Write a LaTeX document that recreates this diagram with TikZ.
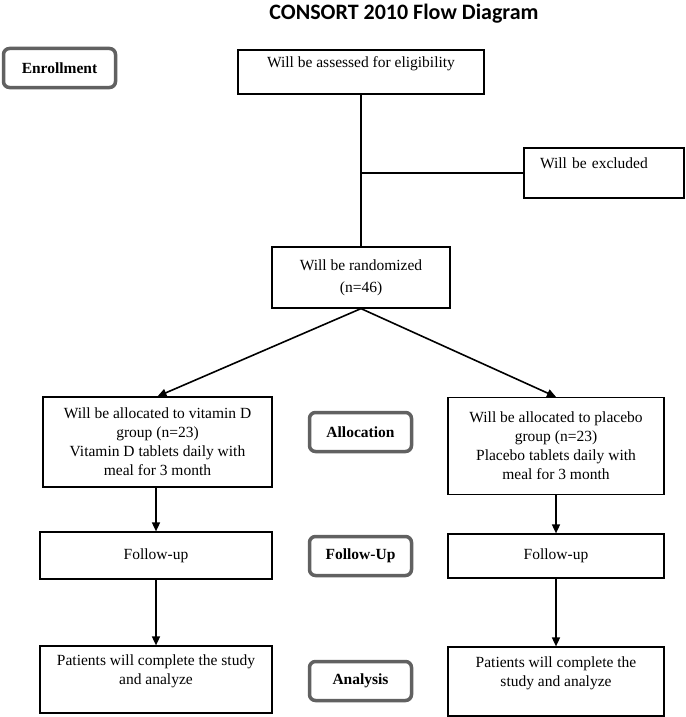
\documentclass[tikz,border=0pt]{standalone}
\usepackage{fontspec}
\setmainfont{Liberation Serif}
\newfontfamily\titlefont{Carlito}
\usetikzlibrary{arrows.meta}
\begin{document}
\begin{tikzpicture}[x=1pt,y=-1pt,
    box/.style={draw=black,line width=1.2pt,align=center,inner sep=2pt,font=\fontsize{15.5}{19}\selectfont},
    stage/.style={draw=black!62,line width=3.5pt,rounded corners=6pt,minimum width=102pt,minimum height=39pt,font=\fontsize{15.5}{19}\selectfont\bfseries},
    arr/.style={-{Triangle[width=8pt,length=9pt]},line width=1.6pt}]
    \useasboundingbox (0,0) rectangle (685,717);
    \node[font=\titlefont\fontsize{22}{26}\selectfont\bfseries] (title) at (404,14) {CONSORT 2010 Flow Diagram};

    \node[stage,minimum width=112pt] (enrol) at (59.5,68) {Enrollment};
    \foreach \name/\txt/\y in {alloc/Allocation/432, fuL/Follow-Up/556, anL/Analysis/681}
        \node[stage] (\name) at (360.5,\y) {\txt};

    \node[box,minimum width=246pt,minimum height=44pt] (assess) at (361,72) {Will be assessed for eligibility\\~};
    \node[box,minimum width=160pt,minimum height=50pt,text width=128pt,align=left,inner xsep=16pt] (excl) at (604,173) {Will be excluded\\~};
    \node[box,minimum width=178pt,minimum height=61pt] (rand) at (361,277.5) {Will be randomized\\[3pt](n=46)};

    \node[box,minimum width=229pt,minimum height=90pt] (vitd) at (157.5,442) {Will be allocated to vitamin D\\group (n=23)\\Vitamin D tablets daily with\\meal for 3 month};
    \node[box,minimum width=216pt,minimum height=97pt] (plac) at (556,446) {Will be allocated to placebo\\group (n=23)\\Placebo tablets daily with\\meal for 3 month};

    \node[box,minimum width=232pt,minimum height=47pt] (fu1) at (156,555.5) {Follow-up};
    \node[box,minimum width=216pt,minimum height=44pt] (fu2) at (556,556) {Follow-up};

    \node[box,minimum width=232pt,minimum height=67pt] (an1) at (156,679.5) {Patients will complete the study\\and analyze\\~};
    \node[box,minimum width=216pt,minimum height=69pt] (an2) at (556,681.5) {Patients will complete the\\study and analyze\\~};

    \draw[line width=1.2pt] (assess.south) -- (rand.north);
    \draw[line width=1.2pt] (excl.west) -- (excl.west -| assess.south);
    \draw[arr] (rand.south) -- (vitd.north);
    \draw[arr] (rand.south) -- (plac.north);
    \draw[arr] (fu1.north |- vitd.south) -- (fu1.north);
    \draw[arr] (plac.south) -- (fu2.north);
    \draw[arr] (fu1.south) -- (an1.north);
    \draw[arr] (fu2.south) -- (an2.north);
\end{tikzpicture}
\end{document}
